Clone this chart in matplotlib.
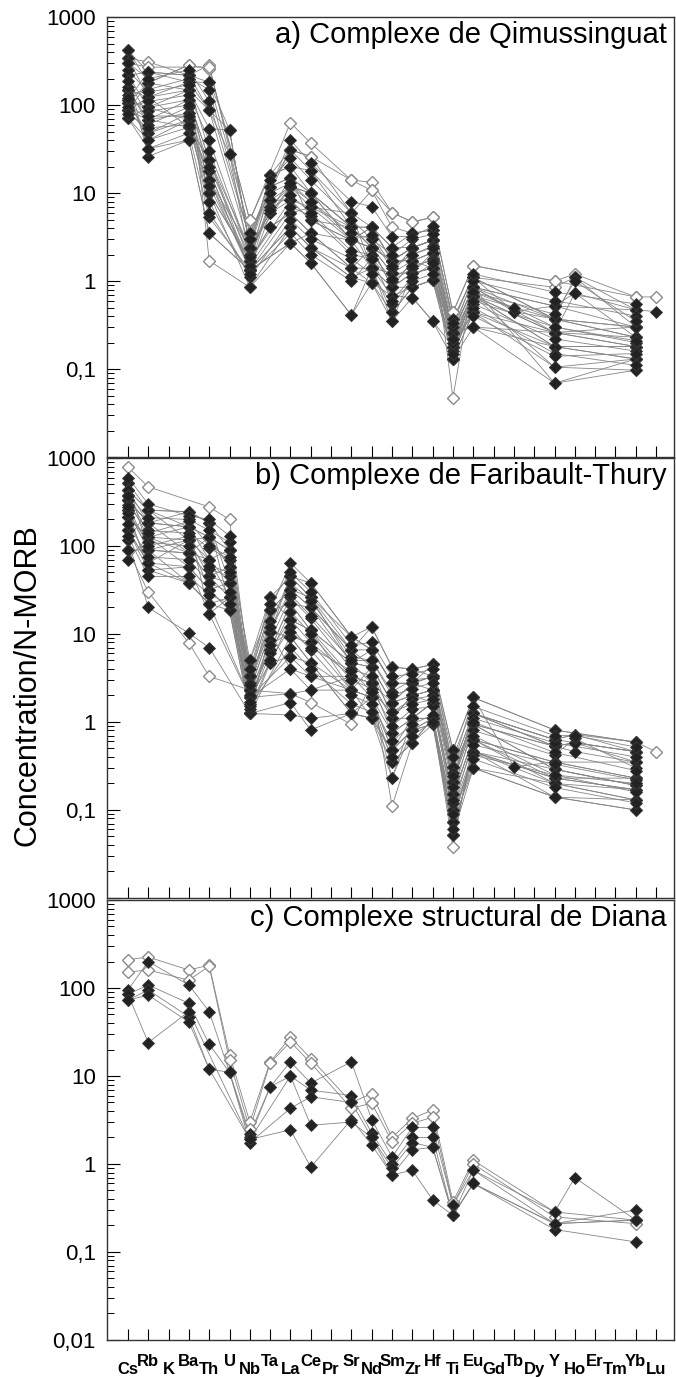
"""Spider diagrams (N-MORB normalised) for three complexes, stacked."""

import matplotlib.pyplot as plt
import numpy as np
from matplotlib.ticker import LogLocator, NullFormatter
from matplotlib.transforms import ScaledTranslation

plt.rcParams['font.family'] = ['Liberation Sans', 'DejaVu Sans']

ELEMENTS = ['Cs', 'Rb', 'K', 'Ba', 'Th', 'U', 'Nb', 'Ta', 'La', 'Ce', 'Pr', 'Sr',
            'Nd', 'Sm', 'Zr', 'Hf', 'Ti', 'Eu', 'Gd', 'Tb', 'Dy', 'Y', 'Ho',
            'Er', 'Tm', 'Yb', 'Lu']

_ = None  # element not analysed

# Cs Rb K Ba Th U Nb Ta La Ce Pr Sr Nd Sm Zr Hf Ti Eu Gd Tb Dy Y Ho Er Tm Yb Lu
QIMUSSINGUAT = [
    [420, 180, _, 285, 260, _, 4.9, _, 63, 37, _, 14, 13.3, 6.0, 4.7, 5.3, 0.44, 1.5, _, _, _, 1.0, 1.2, _, _, 0.66, 0.66],
    [340, 310, _, 218, 285, _, 3.5, _, 31, 26, _, 5.9, 10.7, 4.1, 3.5, 3.8, 0.37, 1.1, _, _, _, 0.85, 1.1, _, _, 0.47, _],
    [218, 237, _, 182, 182, 52, 2.4, 16, 20, 18, _, 4.1, 4.1, 2.4, 2.4, 2.9, 0.26, 0.85, _, _, _, 0.52, 0.73, _, _, 0.47, 0.45],
    [148, 123, _, 148, 87, 28, 1.7, 11.8, 15, 10, _, 2.9, 2.4, 1.7, 1.7, 2.1, 0.18, 0.68, _, _, _, 0.37, _, _, _, 0.30, _],
    [115, 94, _, 115, 24, _, 1.33, 8.3, 11.8, 6.9, _, 4.1, 1.4, 1.23, 1.23, 1.4, 0.13, 0.44, _, _, _, 0.26, _, _, _, 0.18, _],
    [105, 68, _, 81, 18, _, 1.33, 5.9, 8.3, 4.9, _, 2.9, 2.4, 0.85, 0.85, 1.03, 0.26, 0.30, _, _, _, 0.18, _, _, _, 0.13, _],
    [87, 48, _, 68, 14, _, 1.7, 4.1, 5.9, 3.5, _, 1.4, 1.4, 0.68, 0.65, 0.35, 0.18, 0.68, _, _, _, 0.105, _, _, _, 0.097, _],
    [71, 40, _, 56, 10, _, 0.85, _, 4.1, 2.4, _, 1.1, 0.95, 0.44, 0.85, 1.03, 0.13, 0.85, _, _, _, 0.069, _, _, _, 0.13, _],
    [148, 32, _, 48, 5.3, _, 1.33, _, 2.7, 1.6, _, 0.41, 1.4, 0.35, 1.23, 2.1, 0.26, 0.30, _, _, _, 0.26, _, _, _, 0.23, _],
    [218, 26, _, 40, 3.5, _, 1.33, _, 4.1, 2.4, _, 1.4, 2.4, 0.85, 1.7, 1.4, 0.18, 0.68, _, _, _, 0.18, _, _, _, 0.18, _],
    [87, 178, _, 285, 1.7, _, 0.85, _, 2.7, 3.5, _, 2.9, 4.1, 1.7, 2.4, 2.9, 0.047, 1.1, _, _, _, 0.37, _, _, _, 0.30, _],
    [340, 123, _, 182, 87, 52, 2.4, 11.8, 15, 10, _, 4.1, 2.4, 1.7, 2.4, 2.9, 0.26, 0.85, _, _, _, 0.37, _, _, _, 0.23, _],
    [115, 237, _, 218, 182, 28, 3.5, 11.8, 31, 18, _, 5.9, 4.1, 2.4, 3.5, 3.8, 0.37, 1.1, _, 0.45, _, 0.52, _, _, _, 0.47, _],
    [105, 178, _, 148, 14, _, 2.4, 5.9, 11.8, 10, _, 4.1, 2.4, 1.23, 2.4, 2.9, 0.26, 0.85, _, 0.45, _, 0.37, _, _, _, 0.23, _],
    [71, 94, _, 68, 10, _, 1.7, 8.3, 8.3, 6.9, _, 2.9, 2.4, 1.7, 1.7, 2.1, 0.18, 0.68, _, _, _, 0.26, 0.73, _, _, 0.23, _],
    [148, 68, _, 115, 24, _, 2.4, _, 15, 4.9, _, 2.9, 1.4, 0.85, 1.23, 1.4, 0.13, 0.68, _, _, _, 0.18, _, _, _, 0.18, _],
    [87, 123, _, 56, 18, _, 1.33, _, 5.9, 3.5, _, 1.4, 0.95, 0.68, 0.85, 1.03, 0.18, 0.44, _, _, _, 0.105, _, _, _, 0.13, _],
    [105, 48, _, 81, 10, _, 1.7, _, 8.3, 4.9, _, 4.1, 2.4, 1.23, 1.7, 2.1, 0.26, 0.85, _, _, _, 0.26, _, _, _, 0.30, _],
    [218, 94, _, 148, 54, 52, 2.4, 16, 20, 10, _, 2.9, 4.1, 1.7, 2.4, 2.9, 0.18, 0.85, _, _, _, 0.52, _, _, _, 0.30, _],
    [115, 40, _, 68, 14, _, 1.33, _, 4.1, 2.4, _, 1.1, 1.4, 0.44, 0.85, 1.03, 0.13, 0.44, _, _, _, 0.18, _, _, _, 0.13, _],
    [87, 68, _, 56, 24, _, 1.7, 4.1, 5.9, 6.9, _, 5.9, 1.4, 0.85, 1.23, 1.4, 0.26, 0.68, _, _, _, 0.26, _, _, _, 0.18, _],
    [300, 270, _, _, 270, _, 4.9, 16, 31, 26, _, 14, 10.7, 6.0, 4.7, 5.3, 0.44, 1.5, _, _, _, 1.0, _, _, _, 0.66, _],
    [71, 32, _, 40, 3.5, _, 1.33, _, 2.7, 1.6, _, 0.41, 0.95, 0.35, 0.65, 0.35, 0.13, 0.30, _, _, _, 0.069, _, _, _, 0.097, _],
    [420, 237, _, 218, 87, _, 2.4, _, 11.8, 10, _, 4.1, 4.1, 1.7, 2.4, 2.9, 0.26, 1.1, _, _, _, 0.37, 1.1, _, _, 0.30, _],
    [130, 150, _, 200, 150, _, 3.0, 14, 25, 14, _, 5.0, 3.0, 2.0, 3.0, 3.4, 0.30, 1.0, _, _, _, 0.60, _, _, _, 0.40, _],
    [95, 110, _, 130, 40, _, 2.0, 7.0, 12, 8.0, _, 3.5, 3.0, 1.4, 2.0, 2.5, 0.22, 0.75, _, 0.50, _, 0.30, _, _, _, 0.20, _],
    [160, 60, _, 95, 12, _, 1.5, _, 7.0, 5.5, _, 2.0, 1.8, 1.0, 1.4, 1.8, 0.16, 0.55, _, _, _, 0.22, _, _, _, 0.16, _],
    [250, 140, _, 170, 30, _, 2.0, 10, 13, 8.0, _, 3.0, 3.3, 1.5, 2.0, 2.4, 0.20, 0.75, _, _, _, 0.42, 1.0, _, _, 0.35, _],
    [80, 55, _, 60, 8.0, _, 1.1, _, 5.0, 3.0, _, 1.8, 1.2, 0.55, 1.0, 1.2, 0.15, 0.50, _, _, _, 0.15, _, _, _, 0.11, _],
    [300, 200, _, 250, 110, _, 3.0, _, 40, 22, _, 8.0, 7.0, 3.2, 3.2, 4.2, 0.33, 1.2, _, _, _, 0.75, _, _, _, 0.55, _],
    [120, 85, _, 100, 20, _, 1.9, 6.5, 9.5, 6.0, _, 2.2, 2.0, 1.05, 1.5, 1.7, 0.20, 0.60, _, _, _, 0.30, _, _, _, 0.21, _],
    [190, 75, _, 75, 6.0, _, 1.2, _, 3.5, 2.0, _, 1.0, 1.8, 0.60, 1.1, 1.6, 0.22, 0.40, _, _, _, 0.14, _, _, _, 0.15, _],
]
QIMUSSINGUAT_OPEN = [0, 1, 10, 21]

FARIBAULT_THURY = [
    [790, 470, _, _, 278, 200, 3.3, 26, 45, 26, _, 6.6, 12, 4.2, 4.0, 4.5, 0.48, 1.9, _, _, _, 0.81, _, _, _, 0.59, 0.46],
    [520, 255, _, 245, 183, 90, 5.0, 18.6, 64, 38, _, 9.3, 6.6, 2.75, 2.75, 3.3, 0.31, 1.25, _, _, _, 0.63, 0.72, _, _, 0.46, _],
    [430, 183, _, 165, 126, 58, 2.3, 10.5, 32, 20, _, 4.7, 4.2, 1.66, 2.0, 2.3, 0.21, 0.94, _, _, _, 0.53, 0.58, _, _, 0.35, _],
    [335, 126, _, 117, 70, 38, 1.9, 6.6, 22, 11, _, 3.3, 2.75, 0.75, 1.1, 1.66, 0.15, 0.63, _, _, _, 0.35, _, _, _, 0.23, _],
    [255, 90, _, 83, 45, 26, 1.25, 4.7, 14.5, 8.0, _, 2.3, 1.9, 0.48, 0.81, 1.1, 0.10, 0.46, _, _, _, 0.29, _, _, _, 0.19, _],
    [214, 64, _, 58, 32, 18.6, 1.25, _, 9.3, 4.7, _, 1.25, 1.1, 0.35, 0.58, 0.94, 0.073, 0.30, _, _, _, 0.20, _, _, _, 0.13, _],
    [152, 53, _, 38, 22, _, 1.9, _, 5.5, 3.3, _, 2.3, 1.9, 0.23, 1.1, 1.1, 0.052, 0.46, _, _, _, 0.23, _, _, _, 0.17, _],
    [117, 20, _, 10.2, 7.0, _, 1.25, _, 1.2, 1.1, _, 1.25, 1.1, 0.48, 0.81, 0.94, 0.052, 0.30, _, _, _, 0.14, _, _, _, 0.10, _],
    [90, 30, _, 7.9, 3.3, _, 2.3, _, 2.1, 1.66, _, 0.94, 2.75, 0.11, 0.58, 1.1, 0.038, 0.63, _, _, _, 0.23, _, _, _, 0.23, _],
    [70, 126, _, 165, 17, 26, 3.3, 10.5, 4.0, 2.3, _, 3.3, 2.75, 1.66, 2.0, 2.3, 0.21, 1.25, _, _, _, 0.53, 0.58, _, _, 0.46, _],
    [335, 183, _, 83, 126, 90, 2.3, 18.6, 22, 20, _, 6.6, 4.2, 1.66, 2.75, 3.3, 0.31, 1.9, _, 0.31, _, 0.35, _, _, _, 0.35, _],
    [255, 90, _, 117, 45, 58, 1.9, 6.6, 14.5, 11, _, 4.7, 2.75, 1.1, 2.0, 1.66, 0.15, 0.94, _, _, _, 0.29, _, _, _, 0.19, _],
    [430, 255, _, 245, 183, 38, 3.3, _, 45, 26, _, 9.3, 6.6, 2.75, 4.0, 3.3, 0.21, 1.25, _, _, _, 0.63, 0.72, _, _, 0.59, _],
    [214, 126, _, 58, 32, 18.6, 1.25, 10.5, 9.3, 8.0, _, 3.3, 1.9, 0.75, 1.1, 1.66, 0.10, 0.63, _, _, _, 0.20, _, _, _, 0.13, _],
    [152, 64, _, 38, 22, 26, 1.9, 4.7, 5.5, 4.7, _, 2.3, 1.1, 0.48, 0.81, 1.1, 0.073, 0.46, _, _, _, 0.23, _, _, _, 0.17, _],
    [335, 183, _, 165, 70, 90, 2.3, 6.6, 22, 11, _, 4.7, 4.2, 1.66, 2.75, 2.3, 0.31, 0.94, _, _, _, 0.53, 0.46, _, _, 0.35, _],
    [520, 90, _, 83, 45, 38, 1.25, _, 1.66, 0.81, _, 1.25, 1.9, 0.35, 0.58, 1.1, 0.052, 0.46, _, _, _, 0.14, _, _, _, 0.10, _],
    [117, 255, _, 117, 126, 58, 3.3, 18.6, 32, 20, _, 6.6, 6.6, 2.75, 2.75, 4.5, 0.48, 1.9, _, _, _, 0.81, _, _, _, 0.59, _],
    [255, 53, _, 58, 17, _, 1.9, _, 4.0, 3.3, _, 3.3, 2.75, 1.1, 1.1, 1.66, 0.15, 0.63, _, _, _, 0.35, _, _, _, 0.23, _],
    [214, 126, _, 83, 70, 26, 5.0, 26, 14.5, 11, _, 2.3, 4.2, 1.1, 2.0, 2.3, 0.21, 0.94, _, _, _, 0.29, _, _, _, 0.19, _],
    [335, 183, _, 245, 183, _, 2.3, _, 45, 38, _, 9.3, 12, 4.2, 4.0, 4.5, 0.31, 1.25, _, _, _, 0.63, _, _, _, 0.46, _],
    [152, 64, _, 117, 32, 38, 1.25, 10.5, 9.3, 4.7, _, 1.25, 1.1, 0.23, 0.81, 0.94, 0.10, 0.30, _, _, _, 0.14, _, _, _, 0.13, _],
    [90, 90, _, 38, 22, 18.6, 1.9, _, 2.1, 2.3, _, 2.3, 1.9, 0.48, 1.1, 1.1, 0.073, 0.46, _, _, _, 0.20, _, _, _, 0.17, _],
    [430, 255, _, 165, 126, 90, 3.3, 18.6, 32, 26, _, 4.7, 6.6, 2.75, 2.75, 3.3, 0.21, 1.25, _, _, _, 0.53, 0.58, _, _, 0.46, _],
    [380, 210, _, 200, 150, 110, 2.8, 14, 38, 24, _, 5.5, 5.0, 2.2, 3.0, 3.2, 0.26, 1.1, _, _, _, 0.58, _, _, _, 0.40, _],
    [290, 150, _, 140, 95, 70, 2.0, 8.5, 26, 15, _, 4.0, 3.3, 1.3, 1.8, 2.0, 0.18, 0.80, _, _, _, 0.42, 0.65, _, _, 0.30, _],
    [240, 110, _, 100, 55, 45, 1.6, 6.0, 18, 10, _, 3.0, 2.4, 0.90, 1.4, 1.5, 0.12, 0.55, _, _, _, 0.33, _, _, _, 0.22, _],
    [180, 75, _, 70, 38, 30, 1.4, 5.0, 12, 6.5, _, 2.0, 1.6, 0.60, 0.95, 1.2, 0.09, 0.42, _, _, _, 0.25, _, _, _, 0.16, _],
    [600, 300, _, 220, 200, 130, 4.0, 22, 50, 30, _, 7.5, 8.0, 3.3, 3.5, 4.0, 0.40, 1.5, _, _, _, 0.70, 0.70, _, _, 0.52, _],
    [130, 45, _, 45, 28, 22, 1.5, _, 7.0, 4.0, _, 1.6, 1.3, 0.40, 0.70, 1.0, 0.06, 0.38, _, _, _, 0.18, _, _, _, 0.12, _],
    [370, 140, _, 190, 100, 75, 2.6, 12, 28, 16, _, 5.0, 5.0, 2.0, 2.4, 2.8, 0.24, 1.0, _, _, _, 0.45, _, _, _, 0.28, _],
    [280, 100, _, 130, 60, 50, 1.7, 7.5, 10.5, 7.0, _, 3.8, 2.2, 1.3, 1.6, 1.8, 0.13, 0.70, _, _, _, 0.25, _, _, _, 0.20, _],
]
FARIBAULT_THURY_OPEN = [0, 8]

DIANA = [
    [210, 225, _, 160, 182, 17.5, 3.0, 14.5, 27.5, 15.8, _, 5.0, 6.3, 2.0, 3.3, 4.1, 0.37, 1.1, _, _, _, 0.285, _, _, _, 0.23, _],
    [152, 160, _, 123, 177, 15, 2.5, 14, 24.5, 14, _, 4.3, 4.9, 1.8, 2.9, 3.4, 0.34, 1.0, _, _, _, 0.25, _, _, _, 0.21, _],
    [95, 200, _, 108, 54, 11, 2.2, 7.5, 14.5, 8.3, _, 14.5, 3.2, 1.2, 2.6, 2.6, 0.34, 0.85, _, _, _, 0.21, _, _, _, 0.30, _],
    [85, 108, _, 67, 23, 11, 2.0, 7.5, 10, 6.9, _, 6.0, 2.25, 1.0, 2.0, 2.0, 0.26, 0.85, _, _, _, 0.285, 0.7, _, _, 0.23, _],
    [73, 95, _, 47, 12, 11, 1.75, _, 4.3, 5.8, _, 5.0, 2.0, 0.9, 1.75, 1.55, 0.26, 0.6, _, _, _, 0.18, _, _, _, 0.13, _],
    [85, 24, _, 54, _, _, 1.9, _, 2.45, 0.92, _, 3.2, 1.65, 0.75, 0.85, 0.39, 0.26, 0.6, _, _, _, 0.21, _, _, _, 0.23, _],
    [73, 83, _, 41, 12, _, 1.9, _, 10, 2.75, _, 3.0, 2.0, 0.75, 1.45, 1.55, 0.26, 0.6, _, _, _, 0.21, _, _, _, 0.23, _],
]
DIANA_OPEN = [0, 1]

PANEL_TITLES = ['a) Complexe de Qimussinguat',
                'b) Complexe de Faribault-Thury',
                'c) Complexe structural de Diana']
Y_TICKS = [0.01, 0.1, 1, 10, 100, 1000]
Y_TICK_LABELS = ['0,01', '0,1', '1', '10', '100', '1000']


def draw_panel(ax, samples, open_rows, title, show_lowest):
    x = np.arange(len(ELEMENTS))
    values = np.array(samples, dtype=float)

    # Lines first, joined straight across elements that were not analysed.
    for row in values:
        ok = ~np.isnan(row)
        ax.plot(x[ok], row[ok], color='#858585', lw=0.6, zorder=2)

    # Open symbols underneath, filled ones on top.
    for i, row in enumerate(values):
        if i not in open_rows:
            continue
        ok = ~np.isnan(row)
        ax.plot(x[ok], row[ok], ls='none', marker='D', ms=5.8, mfc='white',
                mec='#8c8c8c', mew=1.0, zorder=3)
    for i, row in enumerate(values):
        if i in open_rows:
            continue
        ok = ~np.isnan(row)
        ax.plot(x[ok], row[ok], ls='none', marker='D', ms=5.8, mfc='#222222',
                mec='#3a3a3a', mew=0.6, zorder=4)

    ax.set_yscale('log')
    ax.set_ylim(0.01, 1000)
    ax.set_xlim(-1.03, 26.88)

    labels = list(Y_TICK_LABELS)
    if not show_lowest:
        labels[0] = ''
    ax.set_yticks(Y_TICKS, labels)
    ax.yaxis.set_minor_locator(LogLocator(base=10, subs=np.arange(2, 10)))
    ax.yaxis.set_minor_formatter(NullFormatter())
    ax.tick_params(axis='y', which='major', direction='in', length=9,
                   width=0.8, labelsize=16, pad=8)
    ax.tick_params(axis='y', which='minor', direction='in', length=5, width=0.7)
    ax.set_xticks(x)
    ax.tick_params(axis='x', direction='in', length=8, width=0.8)

    for spine in ax.spines.values():
        spine.set_linewidth(1.0)
        spine.set_color('#333333')

    ax.text(0.9877, 0.941, title, transform=ax.transAxes, ha='right',
            va='baseline', fontsize=21)


def main():
    fig = plt.figure(figsize=(6.76, 13.77), dpi=100)
    left, width, height = 0.1583, 0.8387, 0.3195
    ax_a = fig.add_axes([left, 0.6681, width, height])
    ax_b = fig.add_axes([left, 0.3479, width, height])
    ax_c = fig.add_axes([left, 0.0269, width, height])

    draw_panel(ax_a, QIMUSSINGUAT, QIMUSSINGUAT_OPEN, PANEL_TITLES[0], False)
    draw_panel(ax_b, FARIBAULT_THURY, FARIBAULT_THURY_OPEN, PANEL_TITLES[1], False)
    draw_panel(ax_c, DIANA, DIANA_OPEN, PANEL_TITLES[2], True)

    ax_a.set_xticklabels([])
    ax_b.set_xticklabels([])
    ax_c.set_xticklabels(ELEMENTS, fontsize=12, fontweight='bold')
    ax_c.tick_params(axis='x', pad=10)

    # Element names alternate between a high and a low row.
    shift = ScaledTranslation(0, -0.08, fig.dpi_scale_trans)
    for i, label in enumerate(ax_c.get_xticklabels()):
        if i % 2 == 0:
            label.set_transform(label.get_transform() + shift)

    fig.text(28 / 676, 1 - 685 / 1377, 'Concentration/N-MORB', rotation=90,
             ha='center', va='center', fontsize=22)

    fig.savefig('out.png', dpi=100)
    plt.close(fig)


if __name__ == '__main__':
    main()
